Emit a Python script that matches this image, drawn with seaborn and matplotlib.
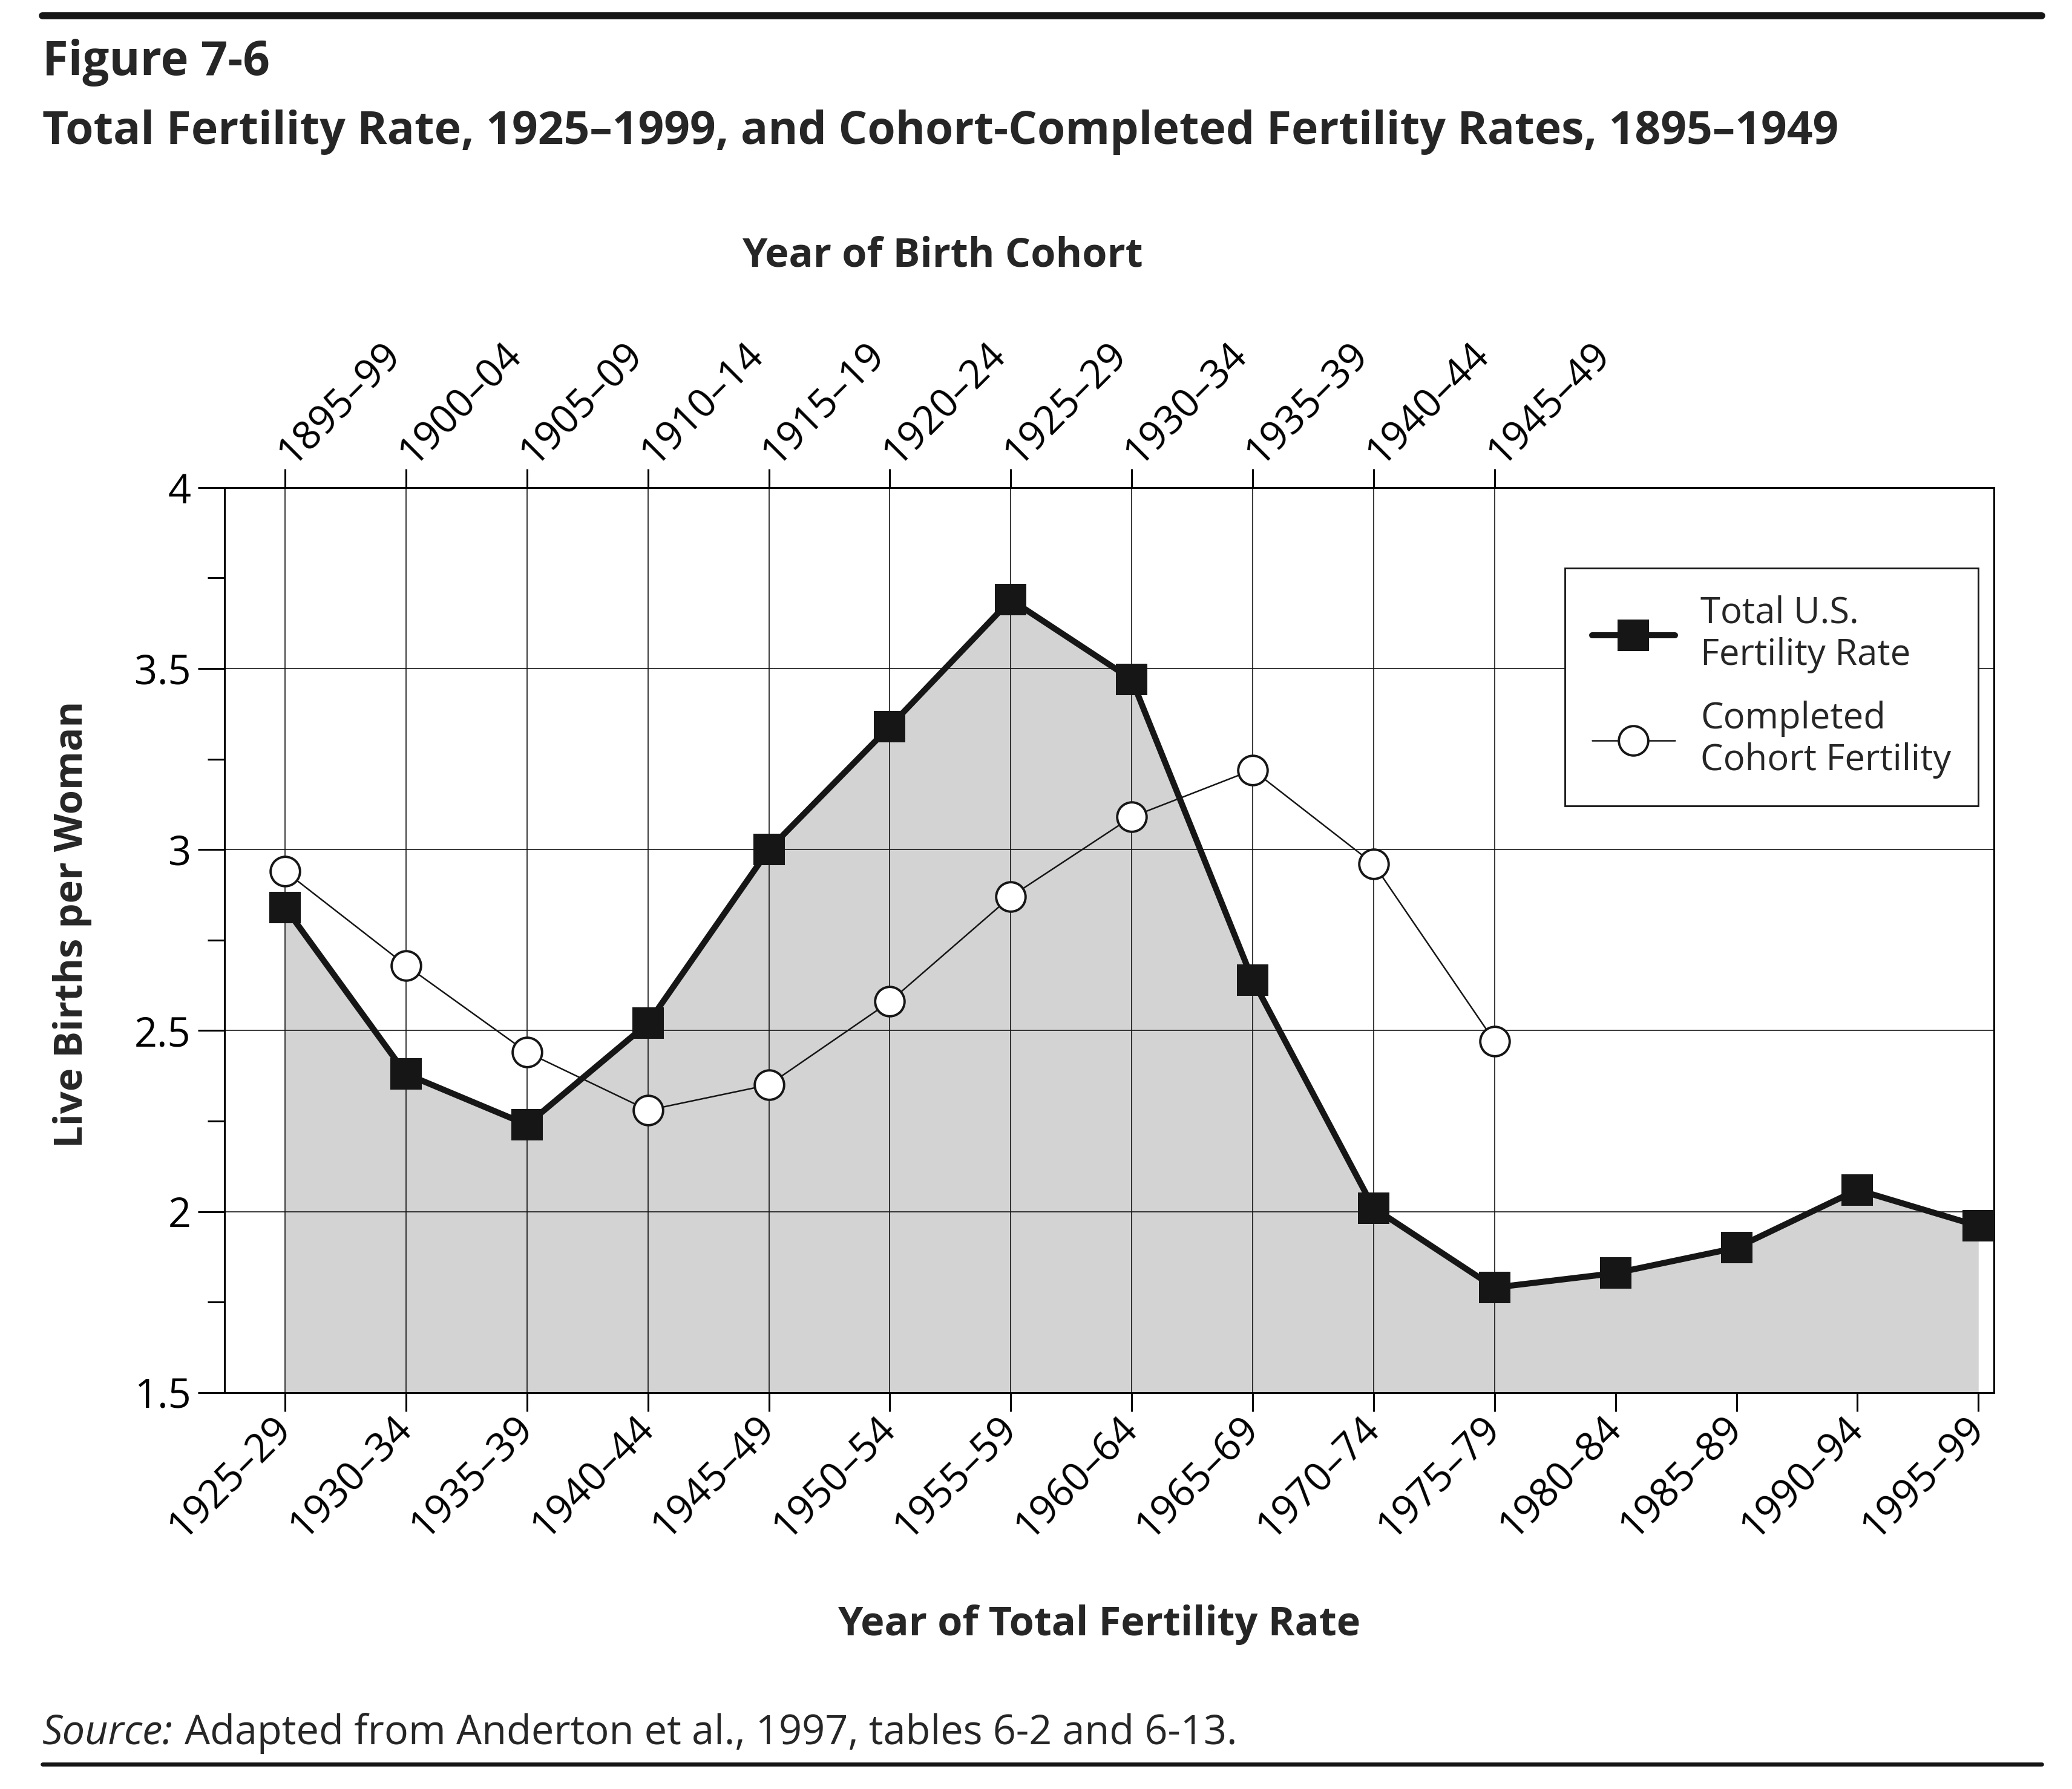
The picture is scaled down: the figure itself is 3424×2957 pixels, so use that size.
import seaborn as sns
import matplotlib.pyplot as plt
import numpy as np
import pandas as pd
from matplotlib.ticker import FixedLocator, MultipleLocator

# data
tfr_periods = ["1925–29", "1930–34", "1935–39", "1940–44", "1945–49", "1950–54",
               "1955–59", "1960–64", "1965–69", "1970–74", "1975–79", "1980–84",
               "1985–89", "1990–94", "1995–99"]
tfr = [2.84, 2.38, 2.24, 2.52, 3.00, 3.34, 3.69, 3.47, 2.64, 2.01, 1.79, 1.83,
       1.90, 2.06, 1.96]

cohorts = ["1895–99", "1900–04", "1905–09", "1910–14", "1915–19", "1920–24",
           "1925–29", "1930–34", "1935–39", "1940–44", "1945–49"]
cohort_fert = [2.94, 2.68, 2.44, 2.28, 2.35, 2.58, 2.87, 3.09, 3.22, 2.96, 2.47]

y_ticks = [1.5, 2, 2.5, 3, 3.5, 4]
y_ticklabels = ["1.5", "2", "2.5", "3", "3.5", "4"]

sns.set_theme(style="white")
plt.rcParams['font.family'] = ['Open Sans', 'DejaVu Sans']
plt.rcParams['axes.edgecolor'] = 'black'
plt.rcParams['xtick.color'] = 'black'
plt.rcParams['ytick.color'] = 'black'

df_tfr = pd.DataFrame({'pos': np.arange(len(tfr_periods)), 'rate': tfr})
df_coh = pd.DataFrame({'pos': np.arange(len(cohorts)), 'rate': cohort_fert})

fig = plt.figure(figsize=(17.12, 14.785), dpi=200)
ax = fig.add_axes([0.1084, 0.2216, 0.8540, 0.5059])

ymin = y_ticks[0]
ax.fill_between(df_tfr['pos'], df_tfr['rate'], ymin, color='#d3d3d3', lw=0, zorder=0.3)

sns.lineplot(data=df_tfr, x='pos', y='rate', ax=ax, color='#161616', lw=3.6,
             marker='s', markersize=19, markeredgewidth=0, markerfacecolor='#161616',
             label="Total U.S.\nFertility Rate", zorder=3)
sns.lineplot(data=df_coh, x='pos', y='rate', ax=ax, color='#161616', lw=0.9,
             marker='o', markersize=17.5, markeredgewidth=1.4, markeredgecolor='#161616',
             markerfacecolor='white', label="Completed\nCohort Fertility", zorder=4)

ax.set_xlim(-0.5, len(tfr_periods) - 1 + 0.13)
ax.set_ylim(ymin, y_ticks[-1])

ax.set_xticks(np.arange(len(tfr_periods)))
ax.set_xticklabels(tfr_periods, rotation=45, ha='right', va='center',
                   rotation_mode='anchor', fontsize=23.5)
ax.xaxis.set_minor_locator(FixedLocator(np.arange(len(cohorts))))
ax.xaxis.remove_overlapping_locs = False
ax.tick_params(axis='x', which='major', direction='out', length=11, width=1.1, pad=7,
               bottom=True)
ax.tick_params(axis='x', which='minor', length=0)

ax.set_yticks(y_ticks)
ax.set_yticklabels(y_ticklabels, fontsize=24)
ax.yaxis.set_minor_locator(MultipleLocator(0.25))
ax.tick_params(axis='y', which='major', direction='out', length=16, width=1.1, pad=4, left=True)
ax.tick_params(axis='y', which='minor', direction='out', length=10, width=1.1, left=True)

ax.grid(axis='y', which='major', color='#161616', lw=0.6, zorder=0.5)
ax.grid(axis='x', which='minor', color='#161616', lw=0.6, zorder=0.5)
ax.set_axisbelow(True)

for s in ax.spines.values():
    s.set_linewidth(1.1)
    s.set_color('black')

ax.set_xlabel("Year of Total Fertility Rate", fontsize=24, fontweight='bold')
ax.xaxis.set_label_coords(0.494, -0.234)
ax.set_ylabel("Live Births per Woman", fontsize=23.5, fontweight='bold')
ax.yaxis.set_label_coords(-0.075, 0.517)

# top axis for the birth cohorts
ax2 = ax.twiny()
ax2.set_xlim(ax.get_xlim())
ax2.set_xticks(np.arange(len(cohorts)))
ax2.set_xticklabels(cohorts, rotation=45, ha='left', va='center',
                    rotation_mode='anchor', fontsize=23.5)
ax2.tick_params(axis='x', direction='out', length=11, width=1.1, pad=6, top=True)
for s in ax2.spines.values():
    s.set_visible(False)
ax2.set_xlabel("Year of Birth Cohort", fontsize=24, fontweight='bold')
ax2.xaxis.set_label_coords(0.4055, 1.244)

leg = ax.legend(loc='upper right', bbox_to_anchor=(0.991, 0.911), fontsize=21.5,
                frameon=True, fancybox=False, edgecolor='#161616', framealpha=1,
                handlelength=2.3, labelspacing=0.75, borderpad=0.75, handletextpad=0.7,
                borderaxespad=0)
leg.get_frame().set_linewidth(1.0)

# header and source
fig.text(0.0204, 0.958, "Figure 7-6", fontsize=28, fontweight='bold', va='baseline')
fig.text(0.0204, 0.9195,
         "Total Fertility Rate, 1925–1999, and Cohort-Completed Fertility Rates, 1895–1949",
         fontsize=27, fontweight='bold', va='baseline')
src = fig.text(0.0204, 0.0251, "Source:", fontsize=24, style='italic', va='baseline')
ax.annotate("Adapted from Anderton et al., 1997, tables 6-2 and 6-13.", xy=(1, 0),
            xycoords=src, xytext=(7, 0), textcoords='offset points', fontsize=24,
            ha='left', va='bottom', annotation_clip=False)

fig.add_artist(plt.Line2D([0.0204, 0.9853], [0.9911, 0.9911], color='#161616', lw=4.2))
fig.add_artist(plt.Line2D([0.0204, 0.9853], [0.0140, 0.0140], color='#161616', lw=2.4))

fig.savefig("out.png", dpi=200)
